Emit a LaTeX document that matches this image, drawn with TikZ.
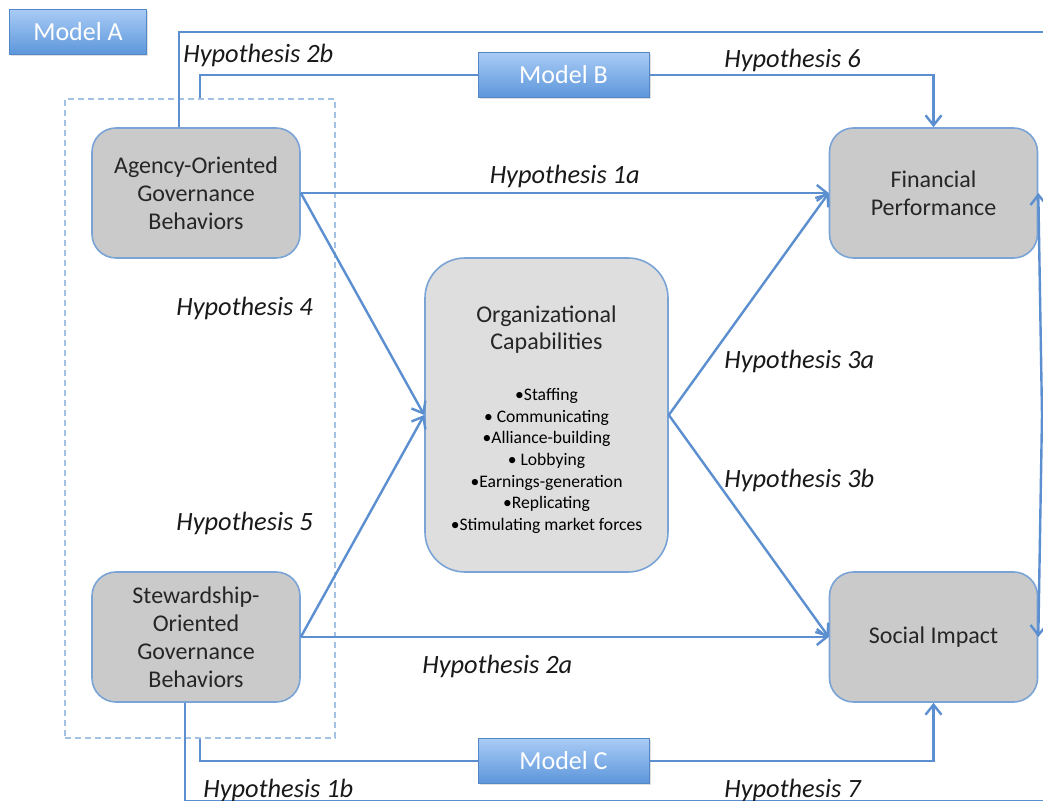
\documentclass[tikz,border=0pt]{standalone}
\usepackage{fontspec}
\setmainfont{Carlito}
\usetikzlibrary{arrows.meta,positioning,calc,shadows}
\definecolor{edgeblue}{HTML}{5B8FD0}
\definecolor{boxline}{HTML}{7AA3D6}
\definecolor{boxgray}{HTML}{CACACA}
\definecolor{ocgray}{HTML}{DEDEDE}
\definecolor{modtop}{HTML}{A9CBF5}
\definecolor{modbot}{HTML}{5C96DB}
\definecolor{dashblue}{HTML}{A3C1E3}
\tikzset{blk/.style={draw=boxline,fill=boxgray,line width=0.8pt,rounded corners=12pt,minimum width=104pt,minimum height=65pt,align=center,text=black!85,font=\fontsize{12}{14}\selectfont},
 capbox/.style={blk,fill=ocgray,rounded corners=20pt,minimum width=121.5pt,minimum height=157pt},
 mdl/.style={draw=modbot!90!black,line width=0.5pt,top color=modtop,bottom color=modbot,text=white,font=\fontsize{13}{15}\selectfont,minimum height=22.5pt,drop shadow={opacity=0.25,shadow xshift=0.8pt,shadow yshift=-0.8pt}},
 grpbox/.style={draw=dashblue,line width=0.9pt,dash pattern=on 3pt off 2pt,minimum width=135pt,minimum height=319.5pt},
 flow/.style={-{Straight Barb[length=5pt,width=8pt]},edgeblue,line width=1.2pt},
 wire/.style={edgeblue,line width=1.2pt},
 hyp/.style={font=\itshape\fontsize{13.2}{15}\selectfont,inner sep=2pt,text=black!90}}
\begin{document}
\begin{tikzpicture}[x=0.5pt,y=-0.5pt]
\useasboundingbox[fill=white] (0,0) rectangle (1043,801);
% boxes
\node[grpbox] (grp) at (200,418.5) {};
\node[blk] (ag) at (196,193) {Agency-Oriented\\Governance\\Behaviors};
\node[blk] (sw) at (196,637) {Stewardship-\\Oriented\\Governance\\Behaviors};
\node[blk] (fp) at (933.5,193) {Financial\\Performance};
\node[blk] (si) at (933.5,637) {Social Impact};
\node[capbox] (oc) at (546.5,415) {};
\node[font=\fontsize{12}{13.5}\selectfont,align=center,text=black!85] (octitle) at (546.5,330) {Organizational\\Capabilities};
\node[font=\fontsize{8.8}{10.8}\selectfont,align=center] (oclist) at (546.5,461) {•Staffing\\• Communicating\\•Alliance-building\\• Lobbying\\•Earnings-generation\\•Replicating\\•Stimulating market forces};
\node[mdl,minimum width=68.5pt] (ma) at (78,32) {Model A};
\node[mdl,minimum width=85.5pt] (mb) at (563.5,75) {Model B};
\node[mdl,minimum width=85.5pt] (mc) at (563.5,761) {Model C};
% connectors
\coordinate (topR) at (1043,32);
\coordinate (botR) at (1043,801);
\coordinate (rgt) at (1042,415);
\draw[wire] ($(ag.north)+(-17,0)$) |- (topR);
\draw[wire] (grp.north) |- (mb.west);
\draw[flow] (mb.east) -| (fp.north);
\draw[wire] (grp.south) |- (mc.west);
\draw[flow] (mc.east) -| (si.south);
\draw[flow] (ag.east) -- node[hyp,above]{Hypothesis 1a} (fp.west);
\draw[flow] (sw.east) -- (si.west);
\draw[flow] (ag.east) -- (oc.west);
\draw[flow] (sw.east) -- (oc.west);
\draw[flow] (oc.east) -- (fp.west);
\draw[flow] (oc.east) -- (si.west);
\draw[wire] ($(sw.south)+(-11,0)$) |- (botR);
\draw[flow] (rgt) -- (fp.east);
\draw[flow] (rgt) -- (si.east);
% labels
\node[hyp,anchor=west] (h2b) at (179,55) {Hypothesis 2b};
\node[hyp,anchor=west] (h6) at (720,60) {Hypothesis 6};
\node[hyp,anchor=west] (h4) at (172,308) {Hypothesis 4};
\node[hyp,anchor=west] (h5) at (172,523) {Hypothesis 5};
\node[hyp,anchor=west] (h3a) at (720,361) {Hypothesis 3a};
\node[hyp,anchor=west] (h3b) at (720,480) {Hypothesis 3b};
\node[hyp,anchor=west] (h2a) at (418,666) {Hypothesis 2a};
\node[hyp,anchor=west] (h1b) at (199,790) {Hypothesis 1b};
\node[hyp,anchor=west] (h7) at (720,790) {Hypothesis 7};
\end{tikzpicture}
\end{document}
